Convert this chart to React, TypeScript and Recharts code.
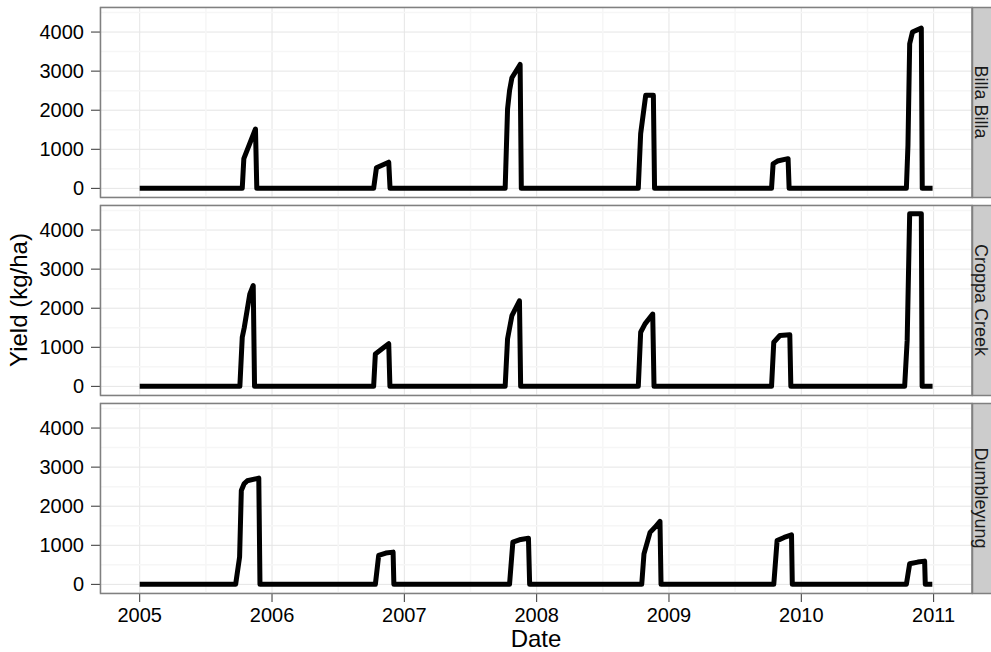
import { LineChart, Line, XAxis, YAxis, CartesianGrid, ReferenceLine } from "recharts"

// yield (kg/ha) by decimal-year date, one list per site
const billaBilla: [number, number][] = [
  [2005.0, 0], [2005.775, 0], [2005.787, 760], [2005.875, 1520], [2005.885, 0],
  [2006.768, 0], [2006.789, 525], [2006.882, 670], [2006.892, 0],
  [2007.762, 0], [2007.78, 2030], [2007.795, 2500], [2007.813, 2830], [2007.875, 3170], [2007.884, 0],
  [2008.768, 0], [2008.786, 1400], [2008.824, 2380], [2008.882, 2380], [2008.891, 0],
  [2009.775, 0], [2009.787, 630], [2009.82, 700], [2009.9, 760], [2009.908, 0],
  [2010.794, 0], [2010.806, 1100], [2010.819, 3700], [2010.84, 4000], [2010.907, 4100], [2010.914, 0],
  [2010.992, 0],
]

const croppaCreek: [number, number][] = [
  [2005.0, 0], [2005.757, 0], [2005.775, 1255], [2005.79, 1500], [2005.832, 2360], [2005.858, 2580], [2005.868, 0],
  [2006.768, 0], [2006.781, 830], [2006.832, 960], [2006.882, 1090], [2006.891, 0],
  [2007.762, 0], [2007.78, 1215], [2007.813, 1810], [2007.87, 2190], [2007.879, 0],
  [2008.768, 0], [2008.786, 1385], [2008.819, 1600], [2008.877, 1850], [2008.887, 0],
  [2009.775, 0], [2009.792, 1130], [2009.838, 1300], [2009.913, 1320], [2009.921, 0],
  [2010.781, 0], [2010.8, 1170], [2010.819, 4420], [2010.907, 4420], [2010.913, 0],
  [2010.992, 0],
]

const dumbleyung: [number, number][] = [
  [2005.0, 0], [2005.725, 0], [2005.755, 700], [2005.768, 2400], [2005.79, 2580], [2005.813, 2650], [2005.9, 2720], [2005.909, 0],
  [2006.781, 0], [2006.806, 740], [2006.86, 800], [2006.915, 825], [2006.921, 0],
  [2007.795, 0], [2007.82, 1080], [2007.88, 1150], [2007.938, 1180], [2007.947, 0],
  [2008.794, 0], [2008.811, 780], [2008.857, 1330], [2008.894, 1460], [2008.932, 1610], [2008.94, 0],
  [2009.792, 0], [2009.817, 1120], [2009.87, 1200], [2009.926, 1265], [2009.932, 0],
  [2010.794, 0], [2010.819, 527], [2010.88, 570], [2010.932, 595], [2010.937, 0],
  [2010.99, 0],
]

const siteNames = ["Billa Billa", "Croppa Creek", "Dumbleyung"]
const siteRows = [billaBilla, croppaCreek, dumbleyung]

const yearTicks = [2005, 2006, 2007, 2008, 2009, 2010, 2011]
const minorYears = [2005.5, 2006.5, 2007.5, 2008.5, 2009.5, 2010.5]
const yieldTicks = [0, 1000, 2000, 3000, 4000]
const minorYields = [500, 1500, 2500, 3500, 4500]

const xDomain = [2004.7, 2011.29]
const yDomain = [-221, 4641]

const FONT = "'Liberation Sans', Arial, Helvetica, sans-serif"
const PANEL_H = 190
const PAD = 8
const panelTops = [7, 205, 403]

function Panel({ rows, top, showX }: { rows: [number, number][]; top: number; showX: boolean }) {
  const data = rows.map(([t, y]) => ({ t, y }))
  const xh = 59
  // a little padding above and below so the edge tick labels are not clipped
  return (
    <div style={{ position: "absolute", left: 0, top: top - PAD }}>
      <LineChart
        width={972}
        height={showX ? PANEL_H + xh + PAD : PANEL_H + 2 * PAD}
        data={data}
        margin={{ top: PAD, right: 0, bottom: showX ? 0 : PAD, left: 0 }}
      >
        <CartesianGrid stroke="#e5e5e5" strokeWidth={1} />
        {minorYears.map((v) => (
          <ReferenceLine key={"mx" + v} x={v} stroke="#f6f6f6" strokeWidth={1.5} />
        ))}
        {minorYields.map((v) => (
          <ReferenceLine key={"my" + v} y={v} stroke="#f6f6f6" strokeWidth={1.5} />
        ))}
        <XAxis
          type="number"
          dataKey="t"
          domain={xDomain}
          ticks={yearTicks}
          interval={0}
          allowDataOverflow
          hide={!showX}
          height={xh}
          axisLine={false}
          tickSize={9}
          tickMargin={6}
          tickLine={{ stroke: "#333" }}
          tick={{ fontSize: 20, fill: "#000", fontFamily: FONT }}
        />
        <YAxis
          type="number"
          domain={yDomain}
          ticks={yieldTicks}
          interval={0}
          allowDataOverflow
          width={100}
          axisLine={false}
          tickSize={9}
          tickMargin={7}
          tickLine={{ stroke: "#333" }}
          tick={{ fontSize: 20, fill: "#000", fontFamily: FONT }}
        />
        <Line
          type="linear"
          dataKey="y"
          stroke="#000"
          strokeWidth={5}
          strokeLinejoin="round"
          dot={false}
          activeDot={false}
          isAnimationActive={false}
        />
      </LineChart>
    </div>
  )
}

export default function App() {
  return (
    <div
      style={{
        position: "absolute",
        left: 0,
        top: 0,
        width: 991,
        height: 652,
        overflow: "hidden",
        background: "#fff",
        fontFamily: FONT,
      }}
    >
      {siteRows.map((rows, i) => (
        <Panel key={siteNames[i]} rows={rows} top={panelTops[i]} showX={i === 2} />
      ))}
      <svg
        width={991}
        height={652}
        style={{ position: "absolute", left: 0, top: 0, pointerEvents: "none" }}
      >
        {panelTops.map((top, i) => (
          <g key={siteNames[i]}>
            <rect x={100.5} y={top + 0.5} width={871.5} height={PANEL_H} fill="none" stroke="#808080" strokeWidth={1.5} />
            <rect x={972.5} y={top + 0.5} width={40} height={PANEL_H} fill="#cccccc" stroke="#808080" strokeWidth={1.5} />
            <text
              x={975}
              y={top + PANEL_H / 2}
              transform={`rotate(90, 975, ${top + PANEL_H / 2})`}
              textAnchor="middle"
              fontSize={18}
              fill="#1a1a1a"
              fontFamily={FONT}
            >
              {siteNames[i]}
            </text>
          </g>
        ))}
        <text
          x={27}
          y={300}
          transform="rotate(-90, 27, 300)"
          textAnchor="middle"
          fontSize={24}
          fill="#000"
          fontFamily={FONT}
        >
          Yield (kg/ha)
        </text>
        <text x={536} y={647} textAnchor="middle" fontSize={24} fill="#000" fontFamily={FONT}>
          Date
        </text>
      </svg>
    </div>
  )
}
